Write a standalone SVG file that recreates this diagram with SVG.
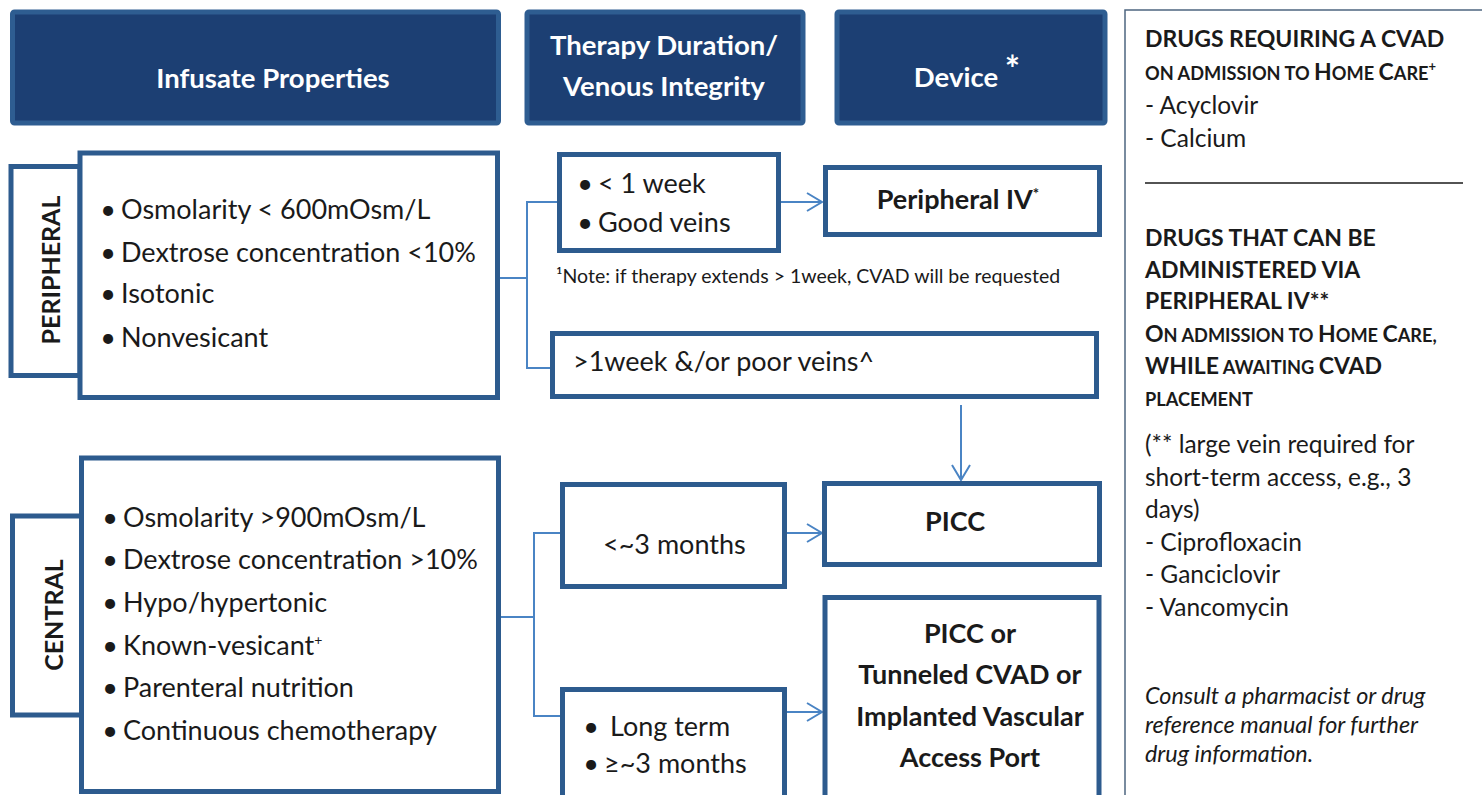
<svg xmlns="http://www.w3.org/2000/svg" width="1482" height="795" viewBox="0 0 1482 795">
<defs>
<style>
.hdr{fill:#1c3f73;stroke:#2e5d91;stroke-width:5}
.box{fill:#fff;stroke:#2d5b8e;stroke-width:5}
.conn{stroke:#4a84c4;stroke-width:2;fill:none}
text{font-family:Lato,"Open Sans","Liberation Sans",sans-serif;fill:#1a1a1a}
.ht{fill:#fff;font-weight:bold;font-size:27.5px;text-anchor:middle}
.it{font-size:27px}
.bl{font-size:27px;text-anchor:middle}
.dev{font-weight:bold;font-size:27px;text-anchor:middle}
.lab{font-weight:bold;font-size:25px;text-anchor:middle}
.sb{font-weight:bold;font-size:23px}
.sm{font-size:18.2px}
.sr{font-size:24.5px}
.si{font-size:23.4px;font-style:italic}
</style>
<marker id="arr" markerUnits="userSpaceOnUse" markerWidth="18" markerHeight="22" refX="16" refY="10" orient="auto">
<path d="M1,1 L16,10 L1,19" fill="none" stroke="#4a84c4" stroke-width="2"/>
</marker>
</defs>

<g id="hdr-infusate"><rect class="hdr" x="12.5" y="12" width="486" height="111" rx="2"/><text class="ht" x="273" y="88">Infusate Properties</text></g>
<g id="hdr-therapy"><rect class="hdr" x="527" y="12" width="276" height="111" rx="2"/><text class="ht" x="664" y="55">Therapy Duration/</text><text class="ht" x="664" y="96">Venous Integrity</text></g>
<g id="hdr-device"><rect class="hdr" x="837" y="12" width="268" height="111" rx="2"/><text class="ht" x="967" y="87">Device <tspan font-size="36" dy="-5">*</tspan></text></g>

<g id="connectors">
<polyline class="conn" points="498,278 527,278"/>
<polyline class="conn" points="557,202 527,202 527,368 550,368"/>
<line class="conn" x1="781" y1="202" x2="822" y2="202" marker-end="url(#arr)"/>
<line class="conn" x1="961" y1="405" x2="961" y2="480" marker-end="url(#arr)"/>
<polyline class="conn" points="499,617 534,617"/>
<polyline class="conn" points="560,533 534,533 534,716 560,716"/>
<line class="conn" x1="786" y1="533" x2="822" y2="533" marker-end="url(#arr)"/>
<line class="conn" x1="786" y1="712" x2="822" y2="712" marker-end="url(#arr)"/>
</g>

<g id="peripheral-label"><rect class="box" x="11" y="166.5" width="69" height="209"/><text class="lab" transform="translate(60,270) rotate(-90)">PERIPHERAL</text></g>
<g id="peripheral-props"><rect class="box" x="80" y="153" width="417.5" height="244.5"/>
<text class="bl" x="108" y="219">•</text><text class="it" x="121" y="219">Osmolarity &lt; 600mOsm/L</text>
<text class="bl" x="108" y="262">•</text><text class="it" x="121" y="262">Dextrose concentration &lt;10%</text>
<text class="bl" x="108" y="303">•</text><text class="it" x="121" y="303">Isotonic</text>
<text class="bl" x="108" y="347">•</text><text class="it" x="121" y="347">Nonvesicant</text>
</g>

<g id="short-term"><rect class="box" x="559.5" y="154.5" width="219" height="96"/>
<text class="bl" x="585" y="193">•</text><text class="it" x="598" y="193">&lt; 1 week</text>
<text class="bl" x="585" y="232">•</text><text class="it" x="598" y="232">Good veins</text>
</g>
<g id="peripheral-iv"><rect class="box" x="825.5" y="167.5" width="274" height="67"/><text class="dev" x="958" y="209">Peripheral IV<tspan font-size="15" dy="-10">*</tspan></text></g>
<g id="note"><text font-size="19.5" x="556" y="283">¹Note: if therapy extends &gt; 1week, CVAD will be requested</text></g>
<g id="long-poor"><rect class="box" x="552.5" y="333.5" width="544" height="63"/><text class="it" x="573" y="371">&gt;1week &amp;/or poor veins^</text></g>

<g id="central-label"><rect class="box" x="12.5" y="516" width="69" height="199"/><text class="lab" transform="translate(63,615) rotate(-90)">CENTRAL</text></g>
<g id="central-props"><rect class="box" x="81.5" y="458" width="417" height="333.5"/>
<text class="bl" x="110" y="527">•</text><text class="it" x="123" y="527">Osmolarity &gt;900mOsm/L</text>
<text class="bl" x="110" y="569">•</text><text class="it" x="123" y="569">Dextrose concentration &gt;10%</text>
<text class="bl" x="110" y="612">•</text><text class="it" x="123" y="612">Hypo/hypertonic</text>
<text class="bl" x="110" y="655">•</text><text class="it" x="123" y="655">Known-vesicant<tspan font-size="14" dy="-10">+</tspan></text>
<text class="bl" x="110" y="697">•</text><text class="it" x="123" y="697">Parenteral nutrition</text>
<text class="bl" x="110" y="740">•</text><text class="it" x="123" y="740">Continuous chemotherapy</text>
</g>

<g id="under-3m"><rect class="box" x="562.5" y="484.5" width="222" height="102"/><text class="it" x="603" y="554">&lt;~3 months</text></g>
<g id="picc"><rect class="box" x="824.5" y="483.5" width="275" height="81"/><text class="dev" x="955" y="531">PICC</text></g>
<g id="long-term"><rect class="box" x="562.5" y="689.5" width="222" height="150"/>
<text class="bl" x="591" y="736">•</text><text class="it" x="610" y="736">Long term</text>
<text class="bl" x="591" y="773">•</text><text class="it" x="604" y="773">≥~3 months</text>
</g>
<g id="cvad"><rect class="box" x="825" y="597.5" width="274" height="230"/>
<text class="dev" x="970" y="643">PICC or</text>
<text class="dev" x="970" y="684">Tunneled CVAD or</text>
<text class="dev" x="970" y="726">Implanted Vascular</text>
<text class="dev" x="970" y="767">Access Port</text>
</g>

<g id="drug-panel">
<path d="M1125,800 L1125,10 L1490,10" fill="none" stroke="#4e6580" stroke-width="1.5"/>
<text class="sb" x="1145" y="47">DRUGS REQUIRING A CVAD</text>
<text class="sb" x="1145" y="80"><tspan class="sm">ON ADMISSION TO </tspan>H<tspan class="sm">OME </tspan>C<tspan class="sm">ARE</tspan><tspan font-size="13" dy="-9">+</tspan></text>
<text class="sr" x="1145" y="114">- Acyclovir</text>
<text class="sr" x="1145" y="147">- Calcium</text>
<line x1="1145" y1="183" x2="1463" y2="183" stroke="#1a1a1a" stroke-width="1.3"/>
<text class="sb" x="1145" y="246">DRUGS THAT CAN BE</text>
<text class="sb" x="1145" y="278">ADMINISTERED VIA</text>
<text class="sb" x="1145" y="309">PERIPHERAL IV**</text>
<text class="sb" x="1145" y="342">O<tspan class="sm">N ADMISSION TO </tspan>H<tspan class="sm">OME </tspan>C<tspan class="sm">ARE,</tspan></text>
<text class="sb" x="1145" y="374">WHILE<tspan class="sm"> AWAITING </tspan>CVAD</text>
<text class="sb" x="1145" y="406"><tspan class="sm">PLACEMENT</tspan></text>
<text class="sr" x="1145" y="453">(** large vein required for</text>
<text class="sr" x="1145" y="486">short-term access, e.g., 3</text>
<text class="sr" x="1145" y="518">days)</text>
<text class="sr" x="1145" y="551">- Ciprofloxacin</text>
<text class="sr" x="1145" y="583">- Ganciclovir</text>
<text class="sr" x="1145" y="616">- Vancomycin</text>
<text class="si" x="1145" y="704">Consult a pharmacist or drug</text>
<text class="si" x="1145" y="733">reference manual for further</text>
<text class="si" x="1145" y="762">drug information.</text>
</g>
</svg>
